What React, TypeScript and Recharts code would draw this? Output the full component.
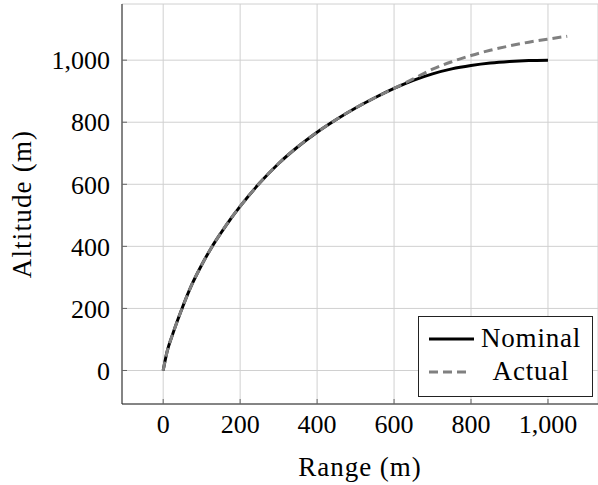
import React from "react";
import { LineChart, Line, XAxis, YAxis, CartesianGrid, Legend } from "recharts";

// Nominal trajectory
const rangeNominal = [0, 10, 25, 50, 75, 100, 125, 150, 175, 200, 250, 300, 350, 400, 450, 500, 550, 600, 650, 700, 750, 800, 850, 900, 950, 1000];
const altitudeNominal = [0, 60, 118, 203, 278, 340, 395, 443, 488, 529, 603, 667, 721, 768, 809, 846, 879, 909, 935, 956, 972, 983, 991, 996, 999, 1000];

// Actual trajectory, overshoots past ~650 m
const rangeActual = [0, 10, 25, 50, 75, 100, 125, 150, 175, 200, 250, 300, 350, 400, 450, 500, 550, 600, 650, 700, 750, 800, 850, 900, 950, 1000, 1050];
const altitudeActual = [0, 60, 118, 203, 278, 340, 395, 443, 488, 529, 603, 667, 721, 768, 809, 846, 879, 909, 940, 971, 995, 1015, 1032, 1046, 1058, 1068, 1077];

const xTicks = [0, 200, 400, 600, 800, 1000];
const yTicks = [0, 200, 400, 600, 800, 1000];
const xDomain = [-107, 1130];
const yDomain = [-108, 1181];

const FONT = "Liberation Serif, serif";
const FRAME = "#222";
const TICK = "#666";

const nominalData = rangeNominal.map((x, i) => ({ x, y: altitudeNominal[i] }));
const actualData = rangeActual.map((x, i) => ({ x, y: altitudeActual[i] }));

const fmt = (v: number) => v.toLocaleString("en-US");

// pgfplots-style legend box in the lower right corner
function LegendBox() {
  const row = { display: "flex", alignItems: "center", height: 33 };
  const label = { width: 100, textAlign: "center" as const, letterSpacing: 0.8 };
  return (
    <div
      style={{
        width: 173,
        height: 74,
        border: `1px solid ${FRAME}`,
        background: "#fff",
        fontFamily: FONT,
        fontSize: 27,
        color: "#000",
        paddingTop: 5,
        boxSizing: "content-box",
      }}
    >
      <div style={row}>
        <svg width={62} height={10}>
          <line x1={10} x2={55} y1={5} y2={5} stroke="#000" strokeWidth={3} />
        </svg>
        <span style={label}>Nominal</span>
      </div>
      <div style={row}>
        <svg width={62} height={10}>
          <line x1={10} x2={52} y1={5} y2={5} stroke="#808080" strokeWidth={3} strokeDasharray="9 5" />
        </svg>
        <span style={label}>Actual</span>
      </div>
    </div>
  );
}

export default function App() {
  return (
    <div style={{ position: "absolute", left: 0, top: 0 }}>
      <LineChart width={598} height={485} margin={{ top: 4, right: 0, bottom: 0, left: 0 }}>
        <CartesianGrid xAxisId="x" yAxisId="y" stroke="#d0d0d0" strokeWidth={1} />
        <XAxis
          xAxisId="x"
          dataKey="x"
          type="number"
          domain={xDomain}
          ticks={xTicks}
          allowDataOverflow
          tickFormatter={fmt}
          height={81}
          tickSize={-5}
          tickMargin={16}
          axisLine={{ stroke: FRAME, strokeWidth: 1 }}
          tickLine={{ stroke: TICK }}
          tick={{ fill: "#000", fontSize: 26, fontFamily: FONT }}
          label={{
            content: ({ viewBox }: any) => (
              <text
                x={viewBox.x + viewBox.width / 2}
                y={viewBox.y + 72}
                textAnchor="middle"
                style={{ fontFamily: FONT, fontSize: 27, letterSpacing: 1 }}
                fill="#000"
              >
                Range (m)
              </text>
            ),
          }}
        />
        <XAxis
          xAxisId="top"
          orientation="top"
          type="number"
          domain={xDomain}
          ticks={xTicks}
          allowDataOverflow
          height={0}
          tickSize={-5}
          tick={false}
          axisLine={{ stroke: FRAME, strokeWidth: 1 }}
          tickLine={{ stroke: TICK }}
        />
        <YAxis
          yAxisId="y"
          type="number"
          domain={yDomain}
          ticks={yTicks}
          allowDataOverflow
          tickFormatter={fmt}
          width={122}
          tickSize={-5}
          tickMargin={17}
          axisLine={{ stroke: FRAME, strokeWidth: 1 }}
          tickLine={{ stroke: TICK }}
          tick={{ fill: "#000", fontSize: 26, fontFamily: FONT }}
          label={{
            content: ({ viewBox }: any) => {
              const cx = 22;
              const cy = viewBox.y + viewBox.height / 2;
              return (
                <text
                  x={cx}
                  y={cy}
                  transform={`rotate(-90, ${cx}, ${cy})`}
                  textAnchor="middle"
                  dominantBaseline="central"
                  style={{ fontFamily: FONT, fontSize: 27, letterSpacing: 1.2 }}
                  fill="#000"
                >
                  Altitude (m)
                </text>
              );
            },
          }}
        />
        <YAxis
          yAxisId="right"
          orientation="right"
          type="number"
          domain={yDomain}
          ticks={yTicks}
          allowDataOverflow
          width={0}
          tickSize={-5}
          tick={false}
          axisLine={{ stroke: FRAME, strokeWidth: 1 }}
          tickLine={{ stroke: TICK }}
        />
        <Line
          xAxisId="x"
          yAxisId="y"
          data={nominalData}
          dataKey="y"
          name="Nominal"
          type="monotone"
          stroke="#000"
          strokeWidth={3}
          dot={false}
          isAnimationActive={false}
        />
        <Line
          xAxisId="x"
          yAxisId="y"
          data={actualData}
          dataKey="y"
          name="Actual"
          type="monotone"
          stroke="#808080"
          strokeWidth={3}
          strokeDasharray="9 5"
          dot={false}
          isAnimationActive={false}
        />
        <Legend
          layout="vertical"
          align="center"
          verticalAlign="middle"
          content={<LegendBox />}
          wrapperStyle={{ left: 418, top: 316, width: 175, height: 76 }}
        />
      </LineChart>
    </div>
  );
}
